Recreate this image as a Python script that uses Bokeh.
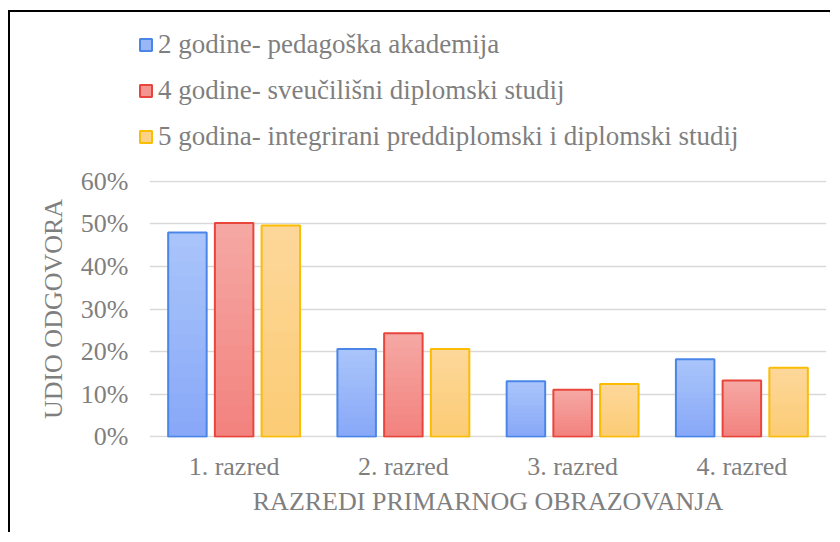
from bokeh.plotting import figure
from bokeh.layouts import column
from bokeh.models import (FactorRange, Range1d, FixedTicker, NumeralTickFormatter,
                          Legend, LegendItem, ColumnDataSource)
from bokeh.transform import dodge
from bokeh.embed import file_html
from bokeh.resources import INLINE

# ---------------- data ----------------
categories = ["1. razred", "2. razred", "3. razred", "4. razred"]
series_names = [
    "2 godine- pedagoška akademija",
    "4 godine- sveučilišni diplomski studij",
    "5 godina- integrirani preddiplomski i diplomski studij",
]
vals_2god = [0.480, 0.206, 0.130, 0.182]
vals_4god = [0.502, 0.243, 0.110, 0.132]
vals_5god = [0.496, 0.206, 0.124, 0.162]
y_ticks = [0.0, 0.1, 0.2, 0.3, 0.4, 0.5, 0.6]
x_title = "RAZREDI PRIMARNOG OBRAZOVANJA"
y_title = "UDIO ODGOVORA"

# ---------------- style ----------------
FONT = "Liberation Serif"
TXT = "#7f7f7f"
offsets = [-0.276, 0.0, 0.276]
bar_w = 0.2275
grad_top = ["#a9c4fa", "#f5a7a3", "#fdd799"]
grad_bot = ["#89a9f8", "#f3837f", "#fccc76"]
outlines = ["#4a86e8", "#e8453c", "#fbbc04"]
N_BANDS = 14


def mix(c1, c2, t):
    a = [int(c1[i:i + 2], 16) for i in (1, 3, 5)]
    b = [int(c2[i:i + 2], 16) for i in (1, 3, 5)]
    return "#%02x%02x%02x" % tuple(round(a[j] + (b[j] - a[j]) * t) for j in range(3))


# ---------------- legend strip (top) ----------------
top = figure(width=820, height=150, x_range=Range1d(0, 1), y_range=Range1d(0, 1),
             x_axis_location=None, y_axis_location=None,
             output_backend="svg", toolbar_location=None, min_border=0)
top.outline_line_color = None
top.xgrid.visible = False
top.ygrid.visible = False
top.frame_align = False

legend_items = []
for si in range(3):
    # legend-only renderer, its single bar lies outside the visible range
    proxy = ColumnDataSource(dict(x=[5.0], top=[5.0]))
    r = top.vbar(x="x", top="top", bottom=4.0, width=0.1, source=proxy,
                 fill_color=mix(grad_top[si], grad_bot[si], 0.5),
                 line_color=outlines[si], line_width=2)
    legend_items.append(LegendItem(label=series_names[si], renderers=[r]))

legend = Legend(items=legend_items, location=(128, 10), orientation="vertical",
                glyph_width=15, glyph_height=15, label_height=30, spacing=15,
                label_standoff=5, padding=0, margin=0,
                border_line_color=None, background_fill_alpha=0,
                label_text_font=FONT, label_text_font_size="27px",
                label_text_color=TXT)
top.add_layout(legend, "center")

# ---------------- chart ----------------
p = figure(
    x_range=FactorRange(factors=categories, range_padding=0),
    y_range=Range1d(-0.002, 0.602),
    width=820, height=370,
    output_backend="svg", toolbar_location=None,
    min_border_left=139, min_border_right=4,
    min_border_top=18, min_border_bottom=95,
)
p.outline_line_color = None
p.frame_align = False

for si, vals in enumerate([vals_2god, vals_4god, vals_5god]):
    for k in range(N_BANDS):
        frac = 1 - k / N_BANDS
        src = ColumnDataSource(dict(cat=categories, top=[v * frac for v in vals]))
        p.vbar(x=dodge("cat", offsets[si], range=p.x_range), top="top", bottom=0,
               width=bar_w, source=src,
               fill_color=mix(grad_top[si], grad_bot[si], k / (N_BANDS - 1)),
               line_color=None)
    src = ColumnDataSource(dict(cat=categories, top=vals))
    p.vbar(x=dodge("cat", offsets[si], range=p.x_range), top="top", bottom=0,
           width=bar_w, source=src, fill_color=None,
           line_color=outlines[si], line_width=2)

p.xgrid.grid_line_color = None
p.ygrid.grid_line_color = "#d9d9d9"
p.ygrid.grid_line_width = 1.5
p.yaxis.ticker = FixedTicker(ticks=y_ticks)
p.yaxis.formatter = NumeralTickFormatter(format="0%")

for ax in (p.xaxis[0], p.yaxis[0]):
    ax.axis_line_color = None
    ax.major_tick_line_color = None
    ax.minor_tick_line_color = None
    ax.major_label_text_font = FONT
    ax.major_label_text_font_size = "26px"
    ax.major_label_text_color = TXT
    ax.axis_label_text_font = FONT
    ax.axis_label_text_font_size = "26px"
    ax.axis_label_text_font_style = "normal"
    ax.axis_label_text_color = TXT

p.xaxis.axis_label = x_title
p.yaxis.axis_label = y_title
p.xaxis.major_label_standoff = 8
p.xaxis.axis_label_standoff = 3
p.yaxis.major_label_standoff = 15
p.yaxis.axis_label_standoff = 10

layout = column(top, p, spacing=0,
                styles={"border-left": "2px solid black", "border-top": "2px solid black",
                        "margin-top": "10px", "margin-left": "8px"})

open("out.html", "w").write(file_html(layout, INLINE))
